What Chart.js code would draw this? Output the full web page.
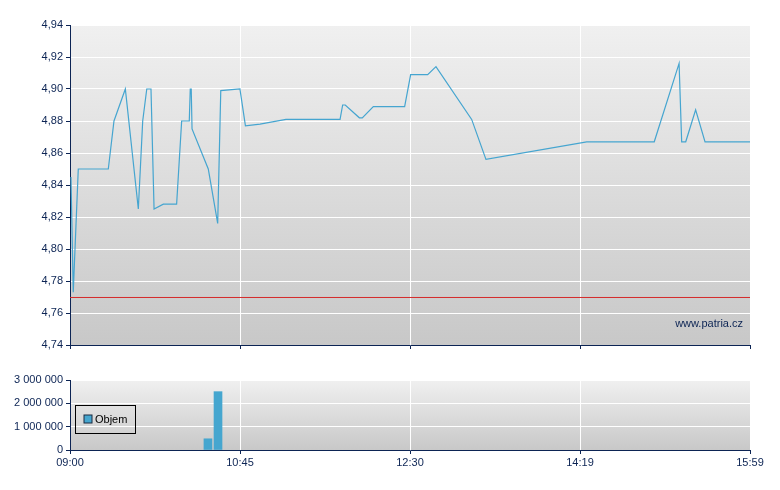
<!DOCTYPE html>
<html>
<head>
<meta charset="utf-8">
<script src="https://cdn.jsdelivr.net/npm/chart.js@4.4.1/dist/chart.umd.min.js"></script>
<style>
  html, body { margin: 0; padding: 0; background: #ffffff; }
  #wrap { position: relative; width: 780px; height: 490px; }
  #priceCanvas { position: absolute; left: 0; top: 0; }
  #volCanvas { position: absolute; left: 0; top: 360px; }
</style>
</head>
<body>
<div id="wrap">
  <canvas id="priceCanvas" width="780" height="360"></canvas>
  <canvas id="volCanvas" width="780" height="130"></canvas>
</div>
<script>
// ---- data (minutes after 09:00 on the chart's time axis) ----
const tradeTimes = [0.6, 2, 5.1, 23.6, 27.1, 34.1, 42.1, 44.8, 47.3, 49.9, 51.8, 57.5, 65.7, 68.8, 73.5, 74.1, 74.7, 75.2, 85.2, 91, 92.9, 104.7, 108.1, 117.1, 133.1, 166.4, 168, 169.6, 178.3, 180.1, 186.9, 206.2, 209.9, 220.4, 225.5, 247.5, 256.3, 318.4, 360, 375.3, 376.9, 379.4, 385.5, 391.3, 419];
const tradePrices = [4.845, 4.773, 4.85, 4.85, 4.88, 4.90, 4.825, 4.88, 4.90, 4.90, 4.825, 4.828, 4.828, 4.88, 4.88, 4.90, 4.90, 4.875, 4.85, 4.816, 4.899, 4.90, 4.877, 4.878, 4.881, 4.881, 4.890, 4.890, 4.882, 4.882, 4.889, 4.889, 4.909, 4.909, 4.914, 4.881, 4.856, 4.867, 4.867, 4.916, 4.867, 4.867, 4.887, 4.867, 4.867];
const referencePrice = 4.7697;
const volumeTimes = [85, 91.2];
const volumeValues = [480000, 2500000];
const timeTickPositions = [0, 104.75, 209.5, 314.25, 419];
const timeTickLabels = ['09:00', '10:45', '12:30', '14:19', '15:59'];
const priceTicks = [4.74, 4.76, 4.78, 4.80, 4.82, 4.84, 4.86, 4.88, 4.90, 4.92, 4.94];
const volumeTicks = [0, 1000000, 2000000, 3000000];
const legendLabel = 'Objem';
const watermark = 'www.patria.cz';

// ---- styling ----
const NAVY = '#0c2454';
const FONT = { family: '"Liberation Sans", Arial, sans-serif', size: 11 };
const LINE_BLUE = '#45a5d0';
const BAR_BLUE = '#45a6cf';

Chart.defaults.font.family = FONT.family;
Chart.defaults.font.size = FONT.size;
Chart.defaults.color = NAVY;

const bgPlugin = {
  id: 'plotBg',
  beforeDraw(chart) {
    const a = chart.chartArea, ctx = chart.ctx;
    const g = ctx.createLinearGradient(0, a.top, 0, a.bottom);
    g.addColorStop(0, '#f0f0f0');
    g.addColorStop(1, '#c8c8c8');
    ctx.save();
    ctx.fillStyle = g;
    ctx.fillRect(a.left, a.top, a.right - a.left, a.bottom - a.top);
    ctx.restore();
  }
};

const watermarkPlugin = {
  id: 'watermark',
  afterDraw(chart) {
    const a = chart.chartArea, ctx = chart.ctx;
    ctx.save();
    ctx.font = FONT.size + 'px ' + FONT.family;
    ctx.fillStyle = NAVY;
    ctx.textAlign = 'right';
    ctx.textBaseline = 'alphabetic';
    ctx.fillText(watermark, a.right - 7, a.bottom - 18);
    ctx.restore();
  }
};

// legend drawn inside the plot area, left side
const legendPlugin = {
  id: 'insideLegend',
  afterDraw(chart) {
    const a = chart.chartArea, ctx = chart.ctx;
    const ds = chart.data.datasets[0];
    const x = a.left + 5.5, y = a.top + 25.5;
    ctx.save();
    ctx.strokeStyle = '#000000';
    ctx.lineWidth = 1;
    ctx.strokeRect(x, y, 60, 28);
    ctx.fillStyle = ds.backgroundColor;
    ctx.fillRect(x + 8.5, y + 9.5, 8, 8);
    ctx.strokeStyle = '#1a2a40';
    ctx.strokeRect(x + 8.5, y + 9.5, 8, 8);
    ctx.fillStyle = '#000000';
    ctx.font = FONT.size + 'px ' + FONT.family;
    ctx.textAlign = 'left';
    ctx.textBaseline = 'middle';
    ctx.fillText(ds.label, x + 19.5, y + 14);
    ctx.restore();
  }
};

const timeAxis = (showLabels, height) => ({
  type: 'linear',
  offset: false,
  min: timeTickPositions[0],
  max: timeTickPositions[timeTickPositions.length - 1],
  afterBuildTicks: (axis) => { axis.ticks = timeTickPositions.map(v => ({ value: v })); },
  afterFit: (axis) => { axis.height = height; },
  grid: { offset: false, color: '#ffffff', lineWidth: 1, tickLength: 4, tickColor: NAVY, drawTicks: true },
  border: { color: NAVY, width: 1 },
  ticks: {
    display: showLabels,
    color: NAVY,
    font: FONT,
    padding: 2,
    maxRotation: 0,
    autoSkip: false,
    callback: (v, i) => timeTickLabels[i]
  }
});

new Chart(document.getElementById('priceCanvas'), {
  type: 'line',
  data: {
    datasets: [
      {
        label: 'Cena',
        data: tradeTimes.map((t, i) => ({ x: t, y: tradePrices[i] })),
        borderColor: LINE_BLUE,
        borderWidth: 1.2,
        pointRadius: 0,
        tension: 0,
        fill: false
      },
      {
        label: 'Reference',
        data: [{ x: timeTickPositions[0], y: referencePrice }, { x: timeTickPositions[timeTickPositions.length - 1], y: referencePrice }],
        borderColor: '#d42a2a',
        borderWidth: 1,
        pointRadius: 0,
        fill: false
      }
    ]
  },
  options: {
    responsive: false,
    animation: false,
    devicePixelRatio: 1,
    layout: { padding: { top: 25, right: 30, left: 0, bottom: 0 } },
    plugins: { legend: { display: false }, tooltip: { enabled: false } },
    scales: {
      x: timeAxis(false, 15),
      y: {
        type: 'linear',
        min: priceTicks[0],
        max: priceTicks[priceTicks.length - 1],
        afterBuildTicks: (axis) => { axis.ticks = priceTicks.map(v => ({ value: v })); },
        afterFit: (axis) => { axis.width = 70; },
        grid: { color: '#ffffff', lineWidth: 1, tickLength: 4, tickColor: NAVY },
        border: { color: NAVY, width: 1 },
        ticks: {
          color: NAVY, font: FONT, padding: 3,
          callback: (v) => v.toFixed(2).replace('.', ',')
        }
      }
    }
  },
  plugins: [bgPlugin, watermarkPlugin]
});

new Chart(document.getElementById('volCanvas'), {
  type: 'bar',
  data: {
    datasets: [
      {
        label: legendLabel,
        data: volumeTimes.map((t, i) => ({ x: t, y: volumeValues[i] })),
        backgroundColor: BAR_BLUE,
        borderWidth: 0,
        barThickness: 8
      }
    ]
  },
  options: {
    responsive: false,
    animation: false,
    devicePixelRatio: 1,
    layout: { padding: { top: 20, right: 30, left: 0, bottom: 0 } },
    plugins: {
      tooltip: { enabled: false },
      legend: { display: false }
    },
    scales: {
      x: timeAxis(true, 40),
      y: {
        type: 'linear',
        min: volumeTicks[0],
        max: volumeTicks[volumeTicks.length - 1],
        afterBuildTicks: (axis) => { axis.ticks = volumeTicks.map(v => ({ value: v })); },
        afterFit: (axis) => { axis.width = 70; },
        grid: { color: '#ffffff', lineWidth: 1, tickLength: 4, tickColor: NAVY },
        border: { color: NAVY, width: 1 },
        ticks: {
          color: NAVY, font: FONT, padding: 3,
          callback: (v) => String(Math.round(v)).replace(/\B(?=(\d{3})+(?!\d))/g, ' ')
        }
      }
    }
  },
  plugins: [bgPlugin, legendPlugin]
});
</script>
</body>
</html>
